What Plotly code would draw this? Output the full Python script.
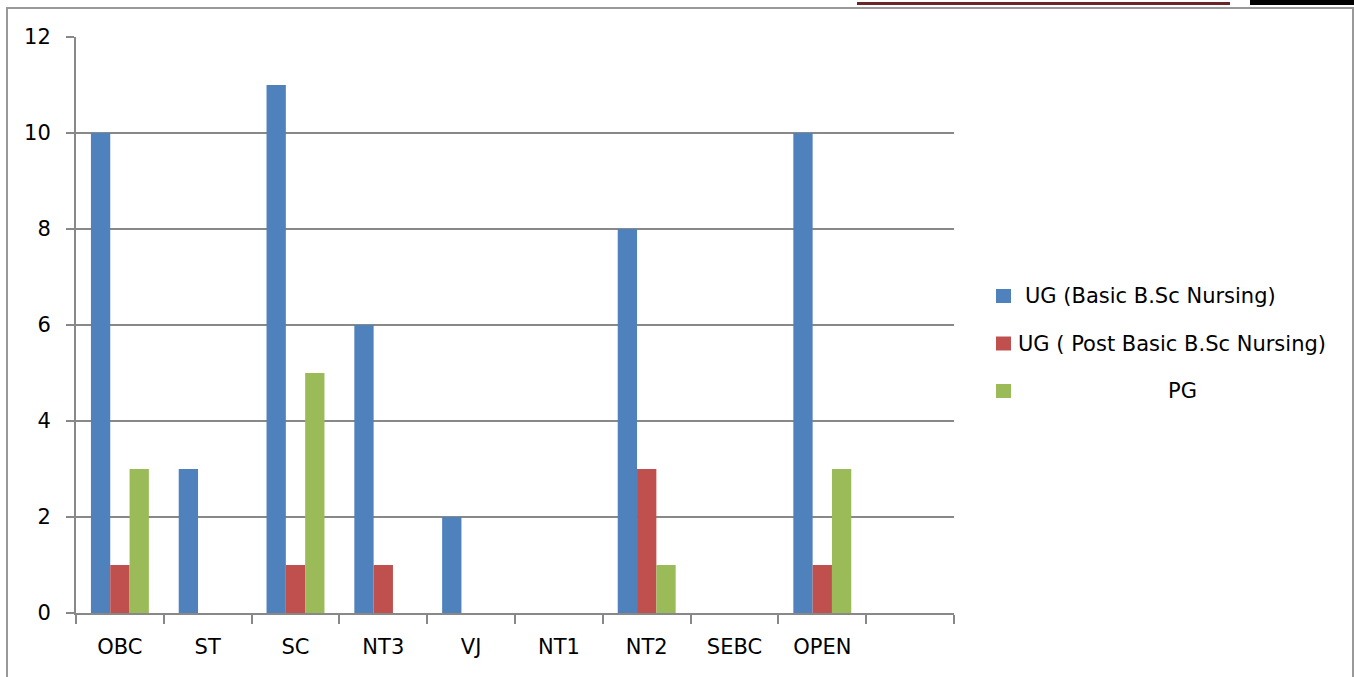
import plotly.graph_objects as go

categories = ["OBC", "ST", "SC", "NT3", "VJ", "NT1", "NT2", "SEBC", "OPEN", " "]
ug_basic = [10, 3, 11, 6, 2, 0, 8, 0, 10, None]
ug_post = [1, 0, 1, 1, 0, 0, 3, 0, 1, None]
pg = [3, 0, 5, 0, 0, 0, 1, 0, 3, None]
series_names = ["UG (Basic B.Sc Nursing)", "UG ( Post Basic B.Sc Nursing)", "PG"]
series_values = [ug_basic, ug_post, pg]
colors = ["#4F81BD", "#C0504D", "#9BBB59"]
y_ticks = [0, 2, 4, 6, 8, 10, 12]

W, H = 1354, 677
L, R, T, B = 76, 954, 37, 613  # plot area in pixels


def px(x):
    return (x - L) / (R - L)


def py(y):
    return (B - y) / (B - T)


fig = go.Figure()
for name, vals, col in zip(series_names, series_values, colors):
    fig.add_trace(go.Bar(x=categories, y=vals, name=name,
                         marker=dict(color=col, line=dict(width=0)),
                         showlegend=False))

FONT = "DejaVu Sans"
fig.update_layout(
    width=W, height=H,
    margin=dict(l=L, r=W - R, t=T, b=H - B, pad=0),
    paper_bgcolor="white", plot_bgcolor="white",
    barmode="group", bargap=0.34, bargroupgap=0,
    font=dict(family=FONT, size=21, color="#000000"),
    xaxis=dict(type="category", categoryorder="array", categoryarray=categories,
               range=[-0.5, len(categories) - 0.5],
               showline=True, linecolor="#888888", linewidth=2,
               ticks="outside", tickson="boundaries", ticklen=9,
               tickcolor="#888888", tickwidth=2,
               showgrid=False, ticklabelstandoff=14,
               tickfont=dict(family=FONT, size=21)),
    yaxis=dict(range=[0, 12], tickvals=y_ticks,
               showline=True, linecolor="#888888", linewidth=2,
               ticks="outside", ticklen=8, tickcolor="#888888", tickwidth=2,
               showgrid=True, gridcolor="#888888", gridwidth=1.5,
               zeroline=False, ticklabelstandoff=11,
               tickfont=dict(family=FONT, size=21)),
)

shapes = []
# outer frame
shapes.append(dict(type="rect", xref="paper", yref="paper",
                   x0=px(7), x1=px(1353), y0=py(720), y1=py(8),
                   line=dict(color="#999999", width=2), fillcolor="rgba(0,0,0,0)"))
# decoration at top
shapes.append(dict(type="line", xref="paper", yref="paper",
                   x0=px(857), x1=px(1230), y0=py(3.5), y1=py(3.5),
                   line=dict(color="#6B2427", width=3)))
shapes.append(dict(type="rect", xref="paper", yref="paper",
                   x0=px(1250), x1=px(1356), y0=py(5), y1=py(-2),
                   line=dict(width=0), fillcolor="#000000"))

annotations = []
legend_text_x = [1023, 1016, 1166]
for i, (name, col) in enumerate(zip(series_names, colors)):
    cy = 296 + i * 47.5
    shapes.append(dict(type="rect", xref="paper", yref="paper",
                       x0=px(996), x1=px(1011), y0=py(cy + 7), y1=py(cy - 7),
                       line=dict(width=0), fillcolor=col))
    annotations.append(dict(xref="paper", yref="paper", x=px(legend_text_x[i]), y=py(cy),
                            text=name, showarrow=False, xanchor="left", yanchor="middle",
                            font=dict(family=FONT, size=21, color="#000000")))

fig.update_layout(shapes=shapes, annotations=annotations)
fig.write_html("out.html", config={"displayModeBar": False},
               post_script="document.body.style.margin='0';document.body.style.padding='0';document.body.style.overflow='hidden';")
